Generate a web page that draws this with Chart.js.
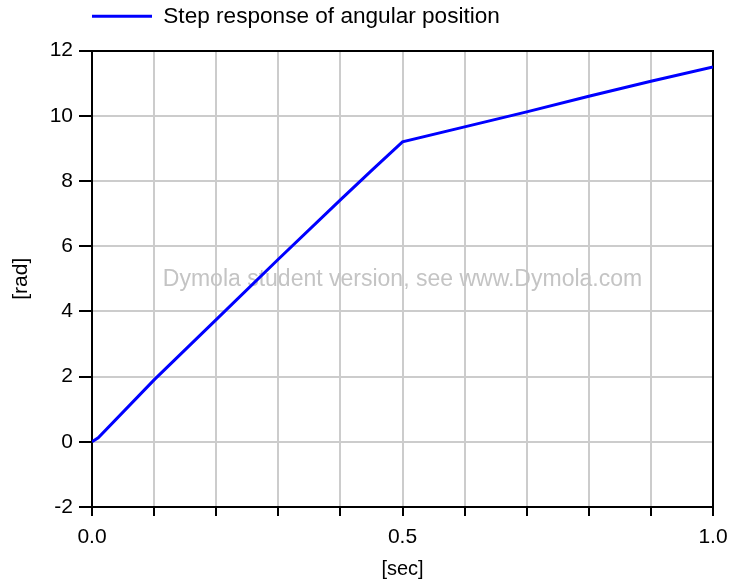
<!DOCTYPE html>
<html>
<head>
<meta charset="utf-8">
<script src="https://cdn.jsdelivr.net/npm/chart.js@4"></script>
<style>
  body { margin: 0; background: #fff; }
  canvas { display: block; }
</style>
</head>
<body>
<canvas id="stepChart" width="730" height="586"></canvas>
<script>
// values
const timeSec = [0, 0.01, 0.1, 0.2, 0.3, 0.4, 0.45, 0.5, 0.6, 0.7, 0.8, 0.9, 1.0];
const angleRad = [0, 0.12, 1.9, 3.75, 5.6, 7.42, 8.32, 9.2, 9.66, 10.12, 10.6, 11.06, 11.5];
const labeledTimeTicks = [0, 0.5, 1.0];
const seriesName = 'Step response of angular position';

const FONT = '"Liberation Sans", Arial, sans-serif';

// grey watermark in the middle of the plot
const watermark = {
    id: 'watermark',
    beforeDatasetsDraw(chart) {
        const { ctx, chartArea } = chart;
        ctx.save();
        ctx.font = '23px ' + FONT;
        ctx.fillStyle = '#c4c4c4';
        ctx.textAlign = 'center';
        ctx.textBaseline = 'alphabetic';
        ctx.fillText('Dymola student version, see www.Dymola.com', (chartArea.left + chartArea.right) / 2, 286);
        ctx.restore();
    }
};

const ctx = document.getElementById('stepChart').getContext('2d');
const stepChart = new Chart(ctx, {
    type: 'line',
    data: {
        datasets: [{
            label: seriesName,
            data: timeSec.map((t, i) => ({ x: t, y: angleRad[i] })),
            borderColor: '#0000ff',
            backgroundColor: '#0000ff',
            borderWidth: 3,
            pointRadius: 0,
            tension: 0
        }]
    },
    options: {
        responsive: false,
        animation: false,
        layout: { padding: { top: 5, left: 0, right: 0, bottom: 0 } },
        plugins: {
            legend: {
                position: 'top',
                align: 'start',
                fullSize: false,
                labels: {
                    usePointStyle: true,
                    pointStyle: 'line',
                    pointStyleWidth: 60,
                    padding: 0,
                    color: '#000',
                    font: { family: FONT, size: 22.6 }
                }
            },
            tooltip: { enabled: false }
        },
        scales: {
            x: {
                type: 'linear',
                position: 'bottom',
                min: 0,
                max: 1,
                afterFit: (scale) => {
                    scale.height = 79;
                    scale.paddingLeft = 0;
                    scale.paddingRight = 0;
                },
                ticks: {
                    stepSize: 0.1,
                    autoSkip: false,
                    maxRotation: 0,
                    padding: 9,
                    color: '#000',
                    font: { family: FONT, size: 21 },
                    callback: (v) => labeledTimeTicks.some(t => Math.abs(t - v) < 1e-6) ? Number(v).toFixed(1) : ''
                },
                grid: { color: '#cccccc', lineWidth: 2, tickColor: '#000', tickLength: 9, tickWidth: 2 },
                border: { color: '#000', width: 2 },
                title: {
                    display: true,
                    text: '[sec]',
                    color: '#000',
                    font: { family: FONT, size: 20 },
                    padding: { top: 0, bottom: 5 }
                }
            },
            y: {
                position: 'left',
                min: -2,
                max: 12,
                afterFit: (scale) => { scale.width = 92; },
                ticks: {
                    stepSize: 2,
                    padding: 6,
                    color: '#000',
                    font: { family: FONT, size: 21 }
                },
                grid: { color: '#cccccc', lineWidth: 2, tickColor: '#000', tickLength: 13, tickWidth: 2 },
                border: { color: '#000', width: 2 },
                title: {
                    display: true,
                    text: '[rad]',
                    color: '#000',
                    font: { family: FONT, size: 21 },
                    padding: { top: 9, bottom: 0 }
                }
            },
            // empty axes that only give the frame on top and right
            x2: {
                type: 'linear',
                position: 'top',
                afterFit: (scale) => { scale.height = 13; },
                ticks: { display: false },
                grid: { display: false },
                border: { color: '#000', width: 2 }
            },
            y2: {
                type: 'linear',
                position: 'right',
                afterFit: (scale) => { scale.width = 17; },
                ticks: { display: false },
                grid: { display: false },
                border: { color: '#000', width: 2 }
            }
        }
    },
    plugins: [watermark]
});
</script>
</body>
</html>
